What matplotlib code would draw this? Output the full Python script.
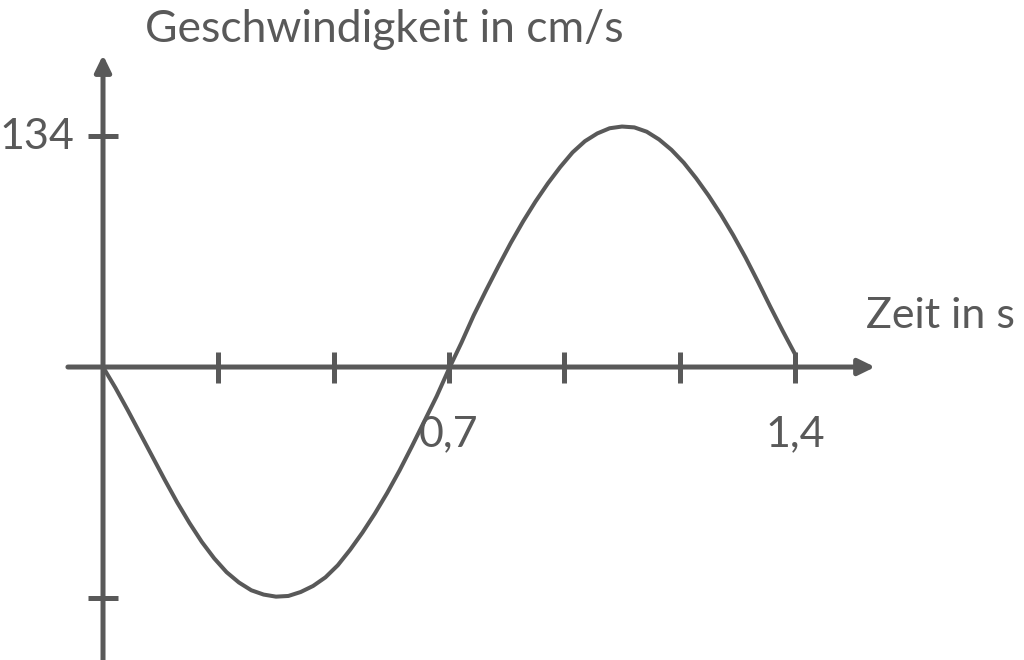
import matplotlib
matplotlib.use("Agg")
import matplotlib.pyplot as plt

# values (time in s, speed in cm/s)
zeit = [0.000, 0.025, 0.050, 0.075, 0.100, 0.125, 0.150, 0.175, 0.200, 0.225,
        0.250, 0.275, 0.300, 0.325, 0.350, 0.375, 0.400, 0.425, 0.450, 0.475,
        0.500, 0.525, 0.550, 0.575, 0.600, 0.625, 0.650, 0.675, 0.700, 0.725,
        0.750, 0.775, 0.800, 0.825, 0.850, 0.875, 0.900, 0.925, 0.950, 0.975,
        1.000, 1.025, 1.050, 1.075, 1.100, 1.125, 1.150, 1.175, 1.200, 1.225,
        1.250, 1.275, 1.300, 1.325, 1.350, 1.375, 1.400]
geschw = [0, -12, -25, -38.5, -52, -65.5, -78.5, -90.5, -101.5, -111,
          -119, -125, -129.5, -132, -133.2, -132.8, -130.5, -127, -122, -115,
          -106, -96, -85, -73, -60, -46, -31.5, -17, -1, 14,
          30, 44.5, 58.5, 72, 84.5, 96, 106.5, 116, 124.5, 131,
          135.5, 138.5, 139.5, 139, 136.5, 132, 126, 118.5, 109.5, 99.5,
          88.5, 76.5, 63.5, 49.5, 35, 21, 7.5]

x_ticks = [1.4 / 6 * k for k in range(1, 7)]
x_labels = {0.7: "0,7", 1.4: "1,4"}
y_ticks = [134, -134]
y_labels = {134: "134"}

grau = "#595959"
plt.rcParams["font.family"] = ["Lato", "DejaVu Sans"]

fig = plt.figure(figsize=(10.24, 6.6), dpi=100)
ax = fig.add_axes([0, 0, 1, 1])
ax.set_xlim(-0.2084, 1.8633)
ax.set_ylim(-169.95, 212.9)
ax.axis("off")

# axes with arrow heads
pfeil = dict(arrowstyle="-|>,head_length=0.45,head_width=0.22", lw=3.6,
             color=grau, shrinkA=0, shrinkB=0, mutation_scale=22)
ax.annotate("", xy=(1.562, 0), xytext=(-0.071, 0), arrowprops=pfeil)
ax.annotate("", xy=(0, 181), xytext=(0, -180), arrowprops=pfeil)

# tick marks
ax.vlines(x_ticks, -9, 9, color=grau, lw=3.6)
ax.hlines(y_ticks, -0.030, 0.030, color=grau, lw=3.6)

# curve
ax.plot(zeit, geschw, color=grau, lw=2.9, solid_joinstyle="round",
        solid_capstyle="butt")

for xv, txt in x_labels.items():
    ax.text(xv, -46, txt, ha="center", va="baseline", fontsize=31, color=grau)
for yv, txt in y_labels.items():
    ax.text(-0.057, yv - 7.5, txt, ha="right", va="baseline", fontsize=31, color=grau)

ax.text(145 / 1024, 1 - 42 / 660, "Geschwindigkeit in cm/s", transform=ax.transAxes,
        ha="left", va="baseline", fontsize=32, color=grau)
ax.text(866 / 1024, 1 - 328 / 660, "Zeit in s", transform=ax.transAxes,
        ha="left", va="baseline", fontsize=31, color=grau)

fig.savefig("out.png", dpi=100, facecolor="white")
